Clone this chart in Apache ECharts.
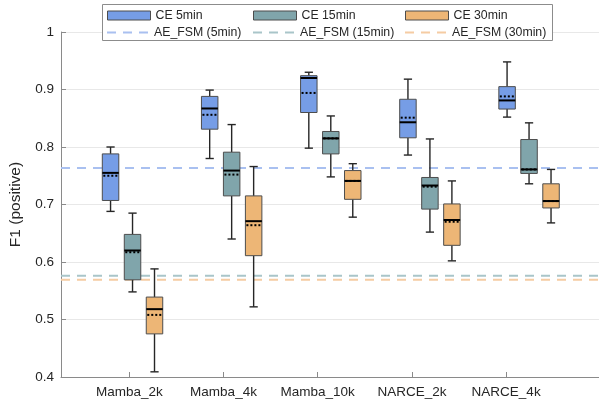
<!DOCTYPE html>
<html><head><meta charset="utf-8">
<script src="https://cdn.jsdelivr.net/npm/echarts@6/dist/echarts.min.js"></script>
<style>html,body{margin:0;padding:0;background:#fff}#c{width:599px;height:401px}</style>
</head><body><div id="c"></div>
<script>
const categories = ['Mamba_2k', 'Mamba_4k', 'Mamba_10k', 'NARCE_2k', 'NARCE_4k'];
const yTicks = [0.4, 0.5, 0.6, 0.7, 0.8, 0.9, 1];
const seriesNames = ['CE 5min', 'CE 15min', 'CE 30min'];
const lineNames = ['AE_FSM (5min)', 'AE_FSM (15min)', 'AE_FSM (30min)'];
// each row: [whiskerLow, q1, median, q3, whiskerHigh, mean]
const ce5 = [
  [0.688, 0.707, 0.755, 0.788, 0.800, 0.750],
  [0.780, 0.831, 0.867, 0.888, 0.899, 0.856],
  [0.798, 0.860, 0.920, 0.924, 0.930, 0.894],
  [0.786, 0.816, 0.843, 0.883, 0.918, 0.851],
  [0.852, 0.866, 0.881, 0.905, 0.948, 0.888]
];
const ce15 = [
  [0.548, 0.569, 0.620, 0.648, 0.685, 0.617],
  [0.640, 0.715, 0.759, 0.791, 0.839, 0.752],
  [0.748, 0.788, 0.815, 0.827, 0.854, 0.815],
  [0.652, 0.692, 0.733, 0.747, 0.814, 0.731],
  [0.736, 0.754, 0.761, 0.813, 0.842, 0.761]
];
const ce30 = [
  [0.409, 0.475, 0.518, 0.539, 0.588, 0.508],
  [0.522, 0.611, 0.671, 0.715, 0.766, 0.664],
  [0.678, 0.709, 0.741, 0.759, 0.771, 0.741],
  [0.602, 0.629, 0.673, 0.701, 0.741, 0.670],
  [0.668, 0.694, 0.706, 0.736, 0.761, 0.706]
];
const aeFsm = [0.7635, 0.576, 0.569];

// layout / style
const X_MIN = 0.275, X_MAX = 5.986;
const GROUP_START = 0.801, GROUP_STEP = 1.0523, BOX_OFFSET = 0.2333, BOX_W = 0.175;
const boxColors = ['#769de6', '#80a5ab', '#edb676'];
const lineColors = ['#a9c0f0', '#a9c5c9', '#f5cca3'];
const FONT = 'Liberation Sans, Arial, Helvetica, sans-serif';
const TXT = '#262626';
const DASH_ICON = 'path://M0,0h9v2h-9zM16,0h9v2h-9zM32,0h9v2h-9z';

function makeRenderer(k) {
  return function (params, api) {
    const x = api.value(0);
    const lo = api.coord([x, api.value(1)]);
    const q1 = api.coord([x, api.value(2)]);
    const med = api.coord([x, api.value(3)]);
    const q3 = api.coord([x, api.value(4)]);
    const hi = api.coord([x, api.value(5)]);
    const mean = api.coord([x, api.value(6)]);
    const w = api.size([BOX_W, 0])[0];
    const cx = lo[0];
    const cap = w * 0.25;
    const ws = {stroke: '#262626', lineWidth: 1.4};
    return {type: 'group', children: [
      {type: 'line', shape: {x1: cx, y1: hi[1], x2: cx, y2: q3[1]}, style: ws},
      {type: 'line', shape: {x1: cx, y1: q1[1], x2: cx, y2: lo[1]}, style: ws},
      {type: 'line', shape: {x1: cx - cap, y1: hi[1], x2: cx + cap, y2: hi[1]}, style: ws},
      {type: 'line', shape: {x1: cx - cap, y1: lo[1], x2: cx + cap, y2: lo[1]}, style: ws},
      {type: 'rect', shape: {x: cx - w / 2, y: q3[1], width: w, height: q1[1] - q3[1]},
        style: {fill: boxColors[k], stroke: '#4d4d4d', lineWidth: 1}},
      {type: 'line', shape: {x1: cx - w / 2, y1: med[1], x2: cx + w / 2, y2: med[1]},
        style: {stroke: '#000', lineWidth: 2}},
      {type: 'line', shape: {x1: cx - w / 2 + 1, y1: mean[1], x2: cx + w / 2, y2: mean[1]},
        style: {stroke: '#000', lineWidth: 2, lineDash: [2, 2]}}
    ]};
  };
}

const allBoxes = [ce5, ce15, ce30];
const series = [];
lineNames.forEach((n, k) => {
  series.push({
    name: n, type: 'line', symbol: 'none', z: 1, silent: true,
    data: [[X_MIN, aeFsm[k]], [X_MAX, aeFsm[k]]],
    itemStyle: {color: lineColors[k]},
    lineStyle: {color: lineColors[k], width: 2, type: [9, 7]}
  });
});
allBoxes.forEach((vals, k) => {
  series.push({
    name: seriesNames[k], type: 'custom', z: 3,
    itemStyle: {color: boxColors[k], borderColor: '#4d4d4d', borderWidth: 1},
    encode: {x: 0, y: [1, 2, 3, 4, 5, 6]},
    renderItem: makeRenderer(k),
    data: vals.map((v, i) => [GROUP_START + GROUP_STEP * i + BOX_OFFSET * k].concat(v))
  });
});

const legendLefts = [107, 253, 405];
const legends = [];
seriesNames.forEach((n, k) => {
  legends.push({
    left: legendLefts[k], top: 8.5, padding: 0, itemWidth: 43, itemHeight: 9,
    selectedMode: false, z: 6,
    textStyle: {fontSize: 12.3, fontFamily: FONT, color: TXT, lineHeight: 14},
    data: [{name: n, icon: 'rect',
      itemStyle: {color: boxColors[k], borderColor: '#4d4d4d', borderWidth: 1}}]
  });
  legends.push({
    left: legendLefts[k], top: 25.5, padding: 0, itemWidth: 43, itemHeight: 2,
    selectedMode: false, z: 6,
    textStyle: {fontSize: 12.3, fontFamily: FONT, color: TXT, lineHeight: 14},
    data: [{name: lineNames[k], icon: DASH_ICON,
      itemStyle: {color: lineColors[k], borderWidth: 0}}]
  });
});

const chart = echarts.init(document.getElementById('c'), null, {renderer: 'canvas'});
chart.setOption({
  animation: false,
  backgroundColor: '#fff',
  grid: {left: 53, right: 0, top: 32, bottom: 24, containLabel: false},
  graphic: [{type: 'rect', z: 5, shape: {x: 102.5, y: 4.5, width: 450, height: 36},
    style: {fill: '#fff', stroke: '#8c8c8c', lineWidth: 1}}],
  legend: legends,
  xAxis: {
    type: 'value', min: X_MIN, max: X_MAX,
    splitLine: {show: false},
    axisLine: {lineStyle: {color: '#8a8a8a', width: 1}},
    axisTick: {inside: true, length: 5, customValues: [1, 2, 3, 4, 5], lineStyle: {color: '#8a8a8a'}},
    axisLabel: {customValues: [1, 2, 3, 4, 5], formatter: v => categories[Math.round(v) - 1] || '',
      fontSize: 13.5, fontFamily: FONT, color: TXT, margin: 8}
  },
  yAxis: {
    type: 'value', min: yTicks[0], max: yTicks[yTicks.length - 1], interval: 0.1,
    name: 'F1 (positive)', nameLocation: 'middle', nameGap: 37, nameRotate: 90,
    nameTextStyle: {fontSize: 15.5, fontFamily: FONT, color: TXT},
    axisLine: {show: true, lineStyle: {color: '#8a8a8a', width: 1}},
    axisTick: {show: true, inside: true, length: 5, lineStyle: {color: '#8a8a8a'}},
    splitLine: {show: true, lineStyle: {color: '#e8e8e8', width: 1}},
    axisLabel: {fontSize: 13.5, fontFamily: FONT, color: TXT, margin: 7,
      formatter: v => String(Math.round(v * 10) / 10)}
  },
  series: series
});
</script>
</body></html>
